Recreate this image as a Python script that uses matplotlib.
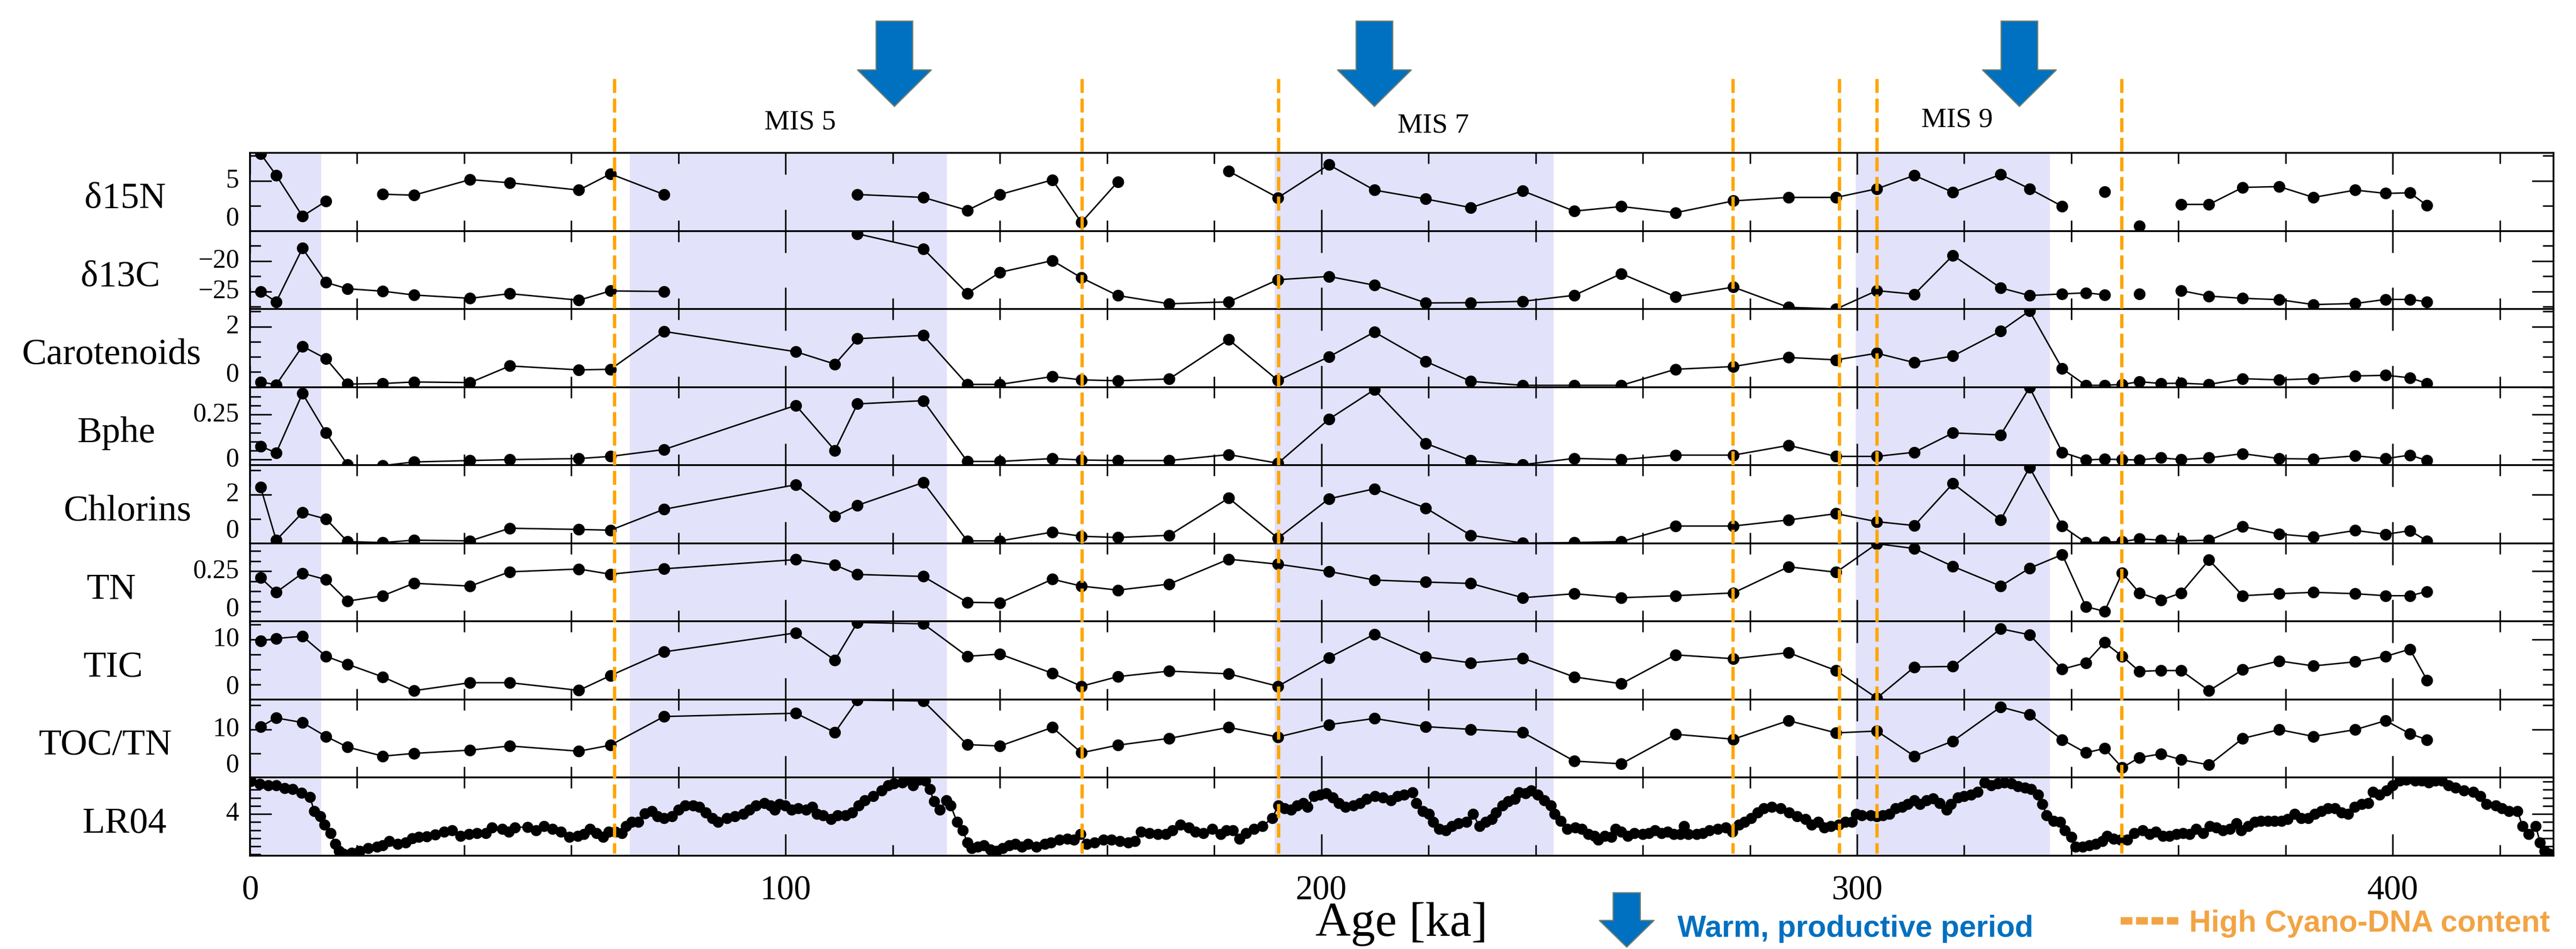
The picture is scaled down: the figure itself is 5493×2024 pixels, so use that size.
import numpy as np
import matplotlib.pyplot as plt
import matplotlib.transforms as mtransforms
from matplotlib.patches import Polygon
from matplotlib.ticker import MultipleLocator, FixedLocator

plt.rcParams['font.family'] = ['Liberation Serif', 'DejaVu Serif']

# ---------------- data ----------------
ages = [2.0, 4.9, 9.8, 14.2, 18.2, 24.8, 30.6, 41.1, 48.5, 61.4, 67.3, 77.3,
        101.9, 109.2, 113.4, 125.7, 133.9, 140.0, 149.8, 155.2, 162.0, 171.6,
        182.7, 191.9, 201.4, 209.9, 219.5, 227.9, 237.6, 247.2, 256.0, 266.1,
        276.9, 287.2, 296.1, 303.7, 310.7, 317.9, 326.8, 332.2, 338.3, 342.7,
        346.2, 349.5, 352.7, 356.7, 360.5, 365.7, 372.0, 378.8, 385.2, 393.0,
        398.7, 403.2, 406.4]

nan = np.nan
d15n = [7.7, 5.56, 1.47, 2.97, nan, 3.67, 3.57, 5.13, 4.81, 4.08, 5.70, 3.64,
        nan, nan, 3.64, 3.35, 2.06, 3.64, 5.10, 0.85, 4.91, nan,
        5.97, 3.32, 6.61, 4.08, 3.19, 2.33, 4.00, 1.98, 2.44, 1.82,
        3.00, 3.35, 3.35, 4.21, 5.55, 3.86, 5.64, 4.21, 2.46, nan,
        3.89, nan, 0.50, nan, 2.65, 2.65, 4.35, 4.43, 3.35, 4.08,
        3.75, 3.81, 2.54]

d13c = [-24.98, -26.68, -17.89, -23.5, -24.53, -24.93, -25.56, -26.1, -25.34, -26.41, -24.89, -24.98,
        nan, nan, -15.52, -17.98, -25.29, -21.84, -19.91, -22.73, -25.65, -27.0,
        -26.68, -23.05, -22.51, -23.95, -26.86, -26.82, -26.59, -25.61, -22.06, -25.83,
        -24.26, -27.58, -27.85, -24.84, -25.43, -19.06, -24.39, -25.65, -25.38, -25.2,
        -25.52, nan, -25.38, nan, -24.84, -25.74, -26.1, -26.32, -27.13, -26.95,
        -26.28, -26.28, -26.68]

carotenoids = [0.17, 0.08, 1.35, 0.94, 0.10, 0.12, 0.17, 0.15, 0.70, 0.57, 0.59, 1.84,
               1.17, 0.76, 1.60, 1.71, 0.09, 0.09, 0.35, 0.24, 0.21, 0.27,
               1.57, 0.22, 1.00, 1.82, 0.85, 0.19, 0.06, 0.06, 0.06, 0.59,
               0.68, 0.98, 0.90, 1.12, 0.81, 1.03, 1.85, 2.52, 0.61, 0.06,
               0.06, 0.09, 0.18, 0.12, 0.13, 0.09, 0.28, 0.24, 0.28, 0.37,
               0.39, 0.31, 0.12]

bphe = [0.074, 0.038, 0.367, 0.148, -0.028, -0.033, -0.013, -0.005, 0.0, 0.006, 0.018, 0.056,
        0.301, 0.051, 0.309, 0.327, -0.01, -0.01, 0.006, -0.002, -0.005, -0.005,
        0.028, -0.02, 0.224, 0.388, 0.09, -0.005, -0.028, 0.007, 0.0, 0.025,
        0.025, 0.079, 0.018, 0.018, 0.041, 0.148, 0.137, 0.40, 0.041, -0.002,
        0.003, 0.0, -0.002, 0.01, 0.0, 0.01, 0.033, 0.006, 0.003, 0.021,
        0.006, 0.025, -0.005]

chlorins = [2.30, 0.13, 1.26, 1.00, 0.07, 0.03, 0.13, 0.10, 0.62, 0.57, 0.54, 1.40,
            2.41, 1.12, 1.56, 2.50, 0.10, 0.10, 0.46, 0.29, 0.24, 0.33,
            1.86, 0.21, 1.83, 2.24, 1.45, 0.33, 0.01, 0.03, 0.07, 0.71,
            0.71, 0.96, 1.22, 0.89, 0.73, 2.46, 0.96, 3.12, 0.70, 0.03,
            0.05, 0.07, 0.18, 0.13, 0.10, 0.13, 0.69, 0.38, 0.26, 0.53,
            0.37, 0.52, 0.10]

tn = [0.217, 0.145, 0.240, 0.208, 0.101, 0.128, 0.190, 0.176, 0.247, 0.261, 0.235, 0.262,
      0.308, 0.281, 0.234, 0.224, 0.095, 0.093, 0.210, 0.176, 0.156, 0.186,
      0.310, 0.285, 0.249, 0.206, 0.196, 0.189, 0.118, 0.138, 0.118, 0.128,
      0.142, 0.272, 0.245, 0.387, 0.363, 0.274, 0.176, 0.265, 0.333, 0.074,
      0.050, 0.242, 0.142, 0.106, 0.142, 0.306, 0.128, 0.138, 0.145, 0.138,
      0.128, 0.128, 0.149]

tic = [9.75, 10.16, 10.53, 7.19, 5.87, 3.76, 1.47, 2.80, 2.80, 1.52, 3.99, 7.93,
       11.09, 6.56, 12.83, 12.6, 7.19, 7.56, 4.36, 2.21, 3.81, 4.73,
       4.27, 2.21, 6.97, 10.86, 7.11, 6.10, 6.88, 3.76, 2.62, 7.43,
       6.79, 7.79, 4.82, 0.24, 5.41, 5.50, 11.78, 10.77, 5.05, 6.10,
       9.49, 7.19, 4.68, 4.82, 4.82, 1.47, 4.96, 6.42, 5.59, 6.28,
       7.19, 8.38, 3.21]

toc_tn = [10.57, 12.38, 11.42, 8.54, 6.33, 4.45, 5.02, 5.70, 6.56, 5.48, 6.73, 12.67,
          13.35, 9.38, 16.07, 15.9, 6.84, 6.56, 10.41, 5.15, 6.73, 8.14,
          10.41, 8.42, 10.97, 12.27, 10.57, 10.01, 9.38, 3.43, 2.86, 8.99,
          7.97, 11.82, 9.27, 9.66, 4.45, 7.58, 14.65, 13.06, 7.86, 5.15,
          6.05, 2.07, 4.17, 4.91, 3.72, 2.64, 8.14, 9.95, 8.54, 9.95,
          11.82, 9.10, 7.86]

# LR04 benthic d18O stack, (age ka, value)
lr04_points = [
    (0.2, 3.19), (1.8, 3.26), (3.4, 3.29), (4.9, 3.29), (6.5, 3.36), (8.0, 3.39), (9.6, 3.48),
    (11.2, 3.58), (12.0, 3.93), (13.1, 4.06), (13.9, 4.27), (15.1, 4.47), (15.9, 4.74), (16.6, 4.91),
    (17.4, 4.98), (19.0, 4.96), (20.5, 4.91), (22.1, 4.84), (23.7, 4.81), (24.8, 4.77), (26.0, 4.67),
    (27.6, 4.74), (29.1, 4.70), (30.3, 4.60), (31.5, 4.57), (33.0, 4.55), (34.6, 4.51), (36.2, 4.44),
    (37.7, 4.40), (39.3, 4.54), (40.9, 4.50), (42.4, 4.47), (44.0, 4.47), (45.2, 4.33), (47.1, 4.37),
    (48.3, 4.44), (49.5, 4.33), (51.8, 4.32), (53.4, 4.40), (54.9, 4.30), (56.5, 4.37), (58.0, 4.44),
    (59.6, 4.57), (61.2, 4.54), (62.3, 4.50), (63.5, 4.37), (64.7, 4.47), (65.9, 4.57), (67.0, 4.44),
    (68.2, 4.44), (69.4, 4.47), (70.2, 4.30), (71.3, 4.20), (72.5, 4.20), (73.7, 3.99),
    (75.0, 3.93), (76.1, 4.06), (77.3, 4.10), (78.8, 4.06), (80.0, 3.89), (81.2, 3.79), (82.7, 3.79),
    (83.9, 3.83), (85.1, 3.96), (86.3, 4.10), (87.4, 4.20), (89.0, 4.10), (90.5, 4.06), (92.1, 4.00),
    (93.2, 3.89), (94.5, 3.79), (96.0, 3.73), (97.2, 3.79), (98.0, 3.89), (98.8, 3.76), (99.9, 3.79),
    (101.1, 3.89), (102.3, 3.86), (103.8, 3.89), (105.0, 3.83), (105.8, 4.00), (107.0, 4.03),
    (108.5, 4.13), (109.7, 4.03), (111.2, 4.03), (112.4, 3.96), (113.6, 3.79), (114.8, 3.66),
    (116.3, 3.56), (117.9, 3.42), (119.1, 3.29), (120.2, 3.25), (121.8, 3.22), (123.0, 3.15),
    (123.8, 3.29), (124.9, 3.15), (126.1, 3.18), (126.9, 3.39), (127.7, 3.69), (128.8, 3.89),
    (130.0, 3.66), (130.8, 3.79), (132.0, 4.20), (133.1, 4.40), (133.9, 4.71), (134.7, 4.84),
    (135.9, 4.81), (137.0, 4.78), (138.2, 4.88), (139.4, 4.91), (140.5, 4.84), (141.7, 4.78),
    (142.9, 4.74), (144.1, 4.81), (145.2, 4.74), (146.8, 4.81), (148.4, 4.74), (149.5, 4.71),
    (151.1, 4.64), (152.6, 4.61), (153.8, 4.64), (155.0, 4.50), (156.2, 4.74), (157.7, 4.71),
    (159.3, 4.64), (160.8, 4.64), (162.4, 4.67), (164.0, 4.71), (165.2, 4.67), (166.3, 4.44),
    (167.9, 4.47), (169.5, 4.50), (171.0, 4.50), (172.2, 4.40), (173.7, 4.27), (175.3, 4.34),
    (176.5, 4.44), (178.0, 4.47), (179.6, 4.37), (181.2, 4.50), (182.3, 4.40), (183.5, 4.40),
    (184.7, 4.61), (185.9, 4.47), (187.4, 4.37), (189.0, 4.30),
    (190.8, 4.10), (192.0, 3.79), (193.1, 3.86), (194.3, 3.89), (195.5, 3.79), (196.6, 3.73),
    (197.4, 3.83), (198.6, 3.56), (199.8, 3.52), (200.9, 3.49), (202.1, 3.59), (203.3, 3.73),
    (204.5, 3.83), (206.0, 3.79), (207.2, 3.73), (208.4, 3.63), (210.0, 3.56), (211.5, 3.59),
    (213.0, 3.66), (214.2, 3.56), (215.4, 3.52), (217.0, 3.46), (217.7, 3.73), (218.9, 3.93),
    (220.1, 4.00), (220.9, 4.20), (222.0, 4.37), (223.2, 4.40), (224.4, 4.30), (225.6, 4.23),
    (227.1, 4.20), (228.3, 4.00), (229.5, 4.30), (230.7, 4.20), (231.8, 4.13), (232.6, 3.96),
    (233.8, 3.79), (234.9, 3.69), (236.1, 3.63), (236.9, 3.46), (238.1, 3.49), (239.2, 3.42),
    (240.4, 3.52), (241.6, 3.66), (242.8, 3.79), (243.5, 4.00), (244.7, 4.17), (245.9, 4.37),
    (247.4, 4.33), (248.6, 4.37), (249.8, 4.50), (251.0, 4.54), (251.7, 4.64), (252.9, 4.54),
    (254.1, 4.57), (254.9, 4.37), (256.0, 4.44), (257.2, 4.54), (258.4, 4.47), (260.0, 4.50),
    (261.1, 4.47), (262.3, 4.40), (263.5, 4.47), (264.6, 4.44), (265.8, 4.50), (267.0, 4.50),
    (267.7, 4.30), (268.5, 4.50), (270.1, 4.50), (271.2, 4.47), (272.4, 4.40), (274.0, 4.37),
    (275.5, 4.33), (276.7, 4.44), (277.9, 4.27), (279.0, 4.20), (280.2, 4.10), (281.4, 3.96),
    (282.6, 3.86), (284.1, 3.83), (285.7, 3.86), (287.3, 3.96), (288.8, 4.06), (290.4, 4.13),
    (291.5, 4.27), (292.7, 4.20), (293.9, 4.34), (295.1, 4.30), (296.6, 4.27), (297.8, 4.20),
    (299.0, 4.20), (299.8, 4.00), (300.9, 4.03), (302.5, 4.03), (303.7, 4.06), (304.8, 4.03),
    (306.0, 4.00), (307.2, 3.86), (308.4, 3.83), (309.5, 3.76), (310.7, 3.66),
    (311.7, 3.76), (313.0, 3.66), (314.2, 3.62), (315.4, 3.73), (316.7, 3.89), (317.5, 3.76),
    (318.8, 3.59), (320.0, 3.56), (321.3, 3.52), (322.5, 3.45), (323.8, 3.22), (325.0, 3.29),
    (326.3, 3.25), (327.5, 3.22), (328.8, 3.25), (330.0, 3.32), (331.3, 3.35), (332.5, 3.39),
    (333.8, 3.52), (334.6, 3.76), (335.4, 4.03), (336.7, 4.17), (337.9, 4.20), (338.8, 4.40),
    (340.0, 4.57), (340.8, 4.81), (342.1, 4.81), (343.3, 4.78), (344.6, 4.74), (345.8, 4.67),
    (346.7, 4.54), (347.9, 4.61), (349.2, 4.64), (350.4, 4.64), (351.7, 4.47), (353.3, 4.40),
    (354.6, 4.50), (355.8, 4.44), (357.1, 4.54), (358.3, 4.54), (359.6, 4.50), (360.8, 4.47),
    (362.1, 4.50), (363.3, 4.37), (364.6, 4.47), (365.8, 4.30), (367.1, 4.34), (368.3, 4.40),
    (369.6, 4.37), (370.8, 4.23), (371.7, 4.40), (373.0, 4.30), (374.2, 4.20), (375.4, 4.17),
    (376.7, 4.17), (377.9, 4.17), (379.2, 4.17), (380.4, 4.13), (381.7, 4.00), (382.9, 4.10),
    (384.2, 4.10), (385.4, 4.00), (386.7, 3.93), (387.9, 3.86), (389.2, 3.86), (390.4, 3.96),
    (391.7, 4.00), (392.9, 3.83), (394.2, 3.76), (395.4, 3.73), (396.3, 3.45), (397.5, 3.52),
    (398.8, 3.42), (400.0, 3.29), (401.3, 3.18), (402.5, 3.15), (404.2, 3.18), (405.4, 3.18),
    (406.7, 3.22), (407.9, 3.18), (409.2, 3.18), (410.4, 3.29), (411.7, 3.35), (413.3, 3.42),
    (415.0, 3.45), (416.3, 3.56), (417.5, 3.76), (419.2, 3.79), (420.4, 3.86), (421.7, 3.93),
    (423.3, 3.93), (424.2, 4.30), (425.4, 4.50), (426.7, 4.30), (427.5, 4.71), (428.3, 4.91),
    (429.2, 4.98),
]
lr04_age = [p[0] for p in lr04_points]
lr04_d18o = [p[1] for p in lr04_points]

warm_periods = [(0, 13.3), (70.9, 130.1), (191.3, 243.4), (299.7, 336.0)]
cyano_ages = [68.0, 155.3, 192.0, 276.8, 296.7, 303.7, 349.4]
arrow_ages = [120.3, 209.9, 330.3]
mis_labels = ['MIS 5', 'MIS 7', 'MIS 9']
mis_ages = [102.7, 220.9, 318.7]

panel_names = ['δ15N', 'δ13C', 'Carotenoids', 'Bphe', 'Chlorins', 'TN', 'TIC', 'TOC/TN', 'LR04']
panel_series = [d15n, d13c, carotenoids, bphe, chlorins, tn, tic, toc_tn]
panel_ylims = [(0.0, 7.8), (-27.86, -15.05), (0.0, 2.58), (-0.031, 0.402), (0.0, 3.21),
               (0.0, 0.389), (0.0, 13.0), (0.0, 16.2), (5.03, 3.1)]
panel_majors = [[0, 5], [-25, -20], [0, 2], [0, 0.25], [0, 2], [0, 0.25], [0, 10], [0, 10], [4]]
panel_ticklabels = [['0', '5'], ['\u221225', '\u221220'], ['0', '2'], ['0', '0.25'], ['0', '2'],
                    ['0', '0.25'], ['0', '10'], ['0', '10'], ['4']]
panel_minor = [2.5, 2.5, 0.5, 0.05, 1, 0.05, 2.5, 5, 0.2]

# ---------------- layout (pixels of the 5493 x 2024 canvas) ----------------
W_PX, H_PX, DPI = 5493, 2024, 300
AX_L, AX_R, AX_T, AX_B = 533, 5445, 326, 1825
XMAX = 430
label_x_px = [267, 257, 238, 248, 272, 237, 241, 225, 266]

SHADE = '#e2e2fa'
ORANGE = '#ffa500'
BLUE = '#0070c0'

fig = plt.figure(figsize=(W_PX / DPI, H_PX / DPI), dpi=DPI)
n = len(panel_names)
ph = (AX_B - AX_T) / n
axes = []
for i in range(n):
    top = AX_T + i * ph
    ax = fig.add_axes([AX_L / W_PX, 1 - (top + ph) / H_PX, (AX_R - AX_L) / W_PX, ph / H_PX])
    axes.append(ax)

    for a0, a1 in warm_periods:
        ax.axvspan(a0, a1, color=SHADE, lw=0, zorder=0)

    if i < n - 1:
        ax.plot(ages, panel_series[i], '-o', color='k', lw=0.75, ms=5.0, zorder=3)
    else:
        ax.plot(lr04_age, lr04_d18o, '-o', color='k', lw=0.75, ms=4.7, zorder=3)

    ax.set_xlim(0, XMAX)
    ax.set_ylim(*panel_ylims[i])
    ax.xaxis.set_major_locator(MultipleLocator(100))
    ax.xaxis.set_minor_locator(MultipleLocator(20))
    ax.yaxis.set_major_locator(FixedLocator(panel_majors[i]))
    ax.yaxis.set_minor_locator(MultipleLocator(panel_minor[i]))
    ax.tick_params(which='both', direction='in', top=True, bottom=True, left=True, right=True,
                   width=0.8, labelleft=False, labelbottom=(i == n - 1))
    ax.tick_params(which='major', length=11)
    ax.tick_params(which='minor', length=5.5)
    ax.tick_params(axis='x', labelsize=17.5, pad=10)
    for s in ax.spines.values():
        s.set_linewidth(0.9)

    # y tick labels, drawn by hand so the bottom "0" can sit on the frame
    trans = mtransforms.blended_transform_factory(ax.transAxes, ax.transData)
    lo = panel_ylims[i][0]
    for v, t in zip(panel_majors[i], panel_ticklabels[i]):
        va = 'bottom' if abs(v - lo) < 1e-9 else 'center'
        ax.text(-23 / (AX_R - AX_L), v, t, transform=trans, ha='right', va=va, fontsize=13.5)

    # panel name
    fig.text(label_x_px[i] / W_PX, 1 - (top + ph / 2 + 34) / H_PX, panel_names[i],
             ha='center', va='baseline', fontsize=19)

# ---------------- overlay: cyano lines, arrows, annotations ----------------
ov = fig.add_axes([AX_L / W_PX, 0, (AX_R - AX_L) / W_PX, 1])
ov.set_xlim(0, XMAX)
ov.set_ylim(H_PX, 0)
ov.axis('off')
ov.patch.set_visible(False)

ov.vlines(cyano_ages, 168, 1820, color=ORANGE, lw=1.7, linestyles=[(0, (4.2, 1.7))])


def arrow(xc, y0, y1, y2, hs, hh):
    pts = [(xc - hs, y0), (xc + hs, y0), (xc + hs, y1), (xc + hh, y1),
           (xc, y2), (xc - hh, y1), (xc - hs, y1)]
    ov.add_patch(Polygon(pts, closed=True, facecolor=BLUE, edgecolor='#74806e', lw=0.6))


px_per_ka = (AX_R - AX_L) / XMAX
for a in arrow_ages:
    arrow(a, 45, 149, 227, 39 / px_per_ka, 79 / px_per_ka)

for lab, a, y in zip(mis_labels, mis_ages, [261, 268, 256]):
    ov.text(a, y, lab, ha='center', va='center', fontsize=14.5)

ov.text(XMAX / 2, 1996, 'Age [ka]', ha='center', va='baseline', fontsize=25)

# legend
arrow(257.0, 1904, 1963, 2020, 29 / px_per_ka, 58.5 / px_per_ka)
ov.text(266.5, 1998, 'Warm, productive period', color=BLUE, fontsize=15.5,
        fontweight='bold', family=['Liberation Sans', 'DejaVu Sans'], ha='left', va='baseline')
ov.plot([349.2, 360.0], [1964, 1964], color='#f2a444', lw=3.8,
        linestyle=(0, (1.58, 0.5)), dash_capstyle='butt')
ov.text(362.0, 1987, 'High Cyano-DNA content', color='#f2a444', fontsize=15.5,
        fontweight='bold', family=['Liberation Sans', 'DejaVu Sans'], ha='left', va='baseline')

fig.savefig('out.png', dpi=DPI)
